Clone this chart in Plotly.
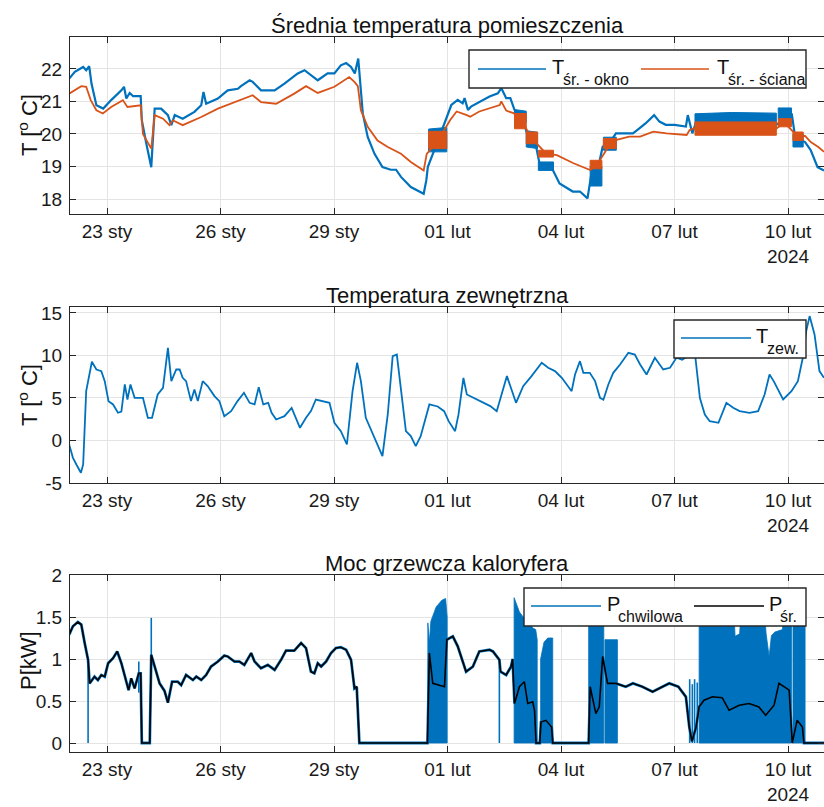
import pandas as pd
import plotly.graph_objects as go

W, H = 824, 807
BASE = pd.Timestamp("2024-01-22 00:00")

# ---------------- data (x = days since 22 Jan 2024 00:00) ----------------
okno_day = [0, 0.15, 0.37, 0.45, 0.53, 0.59, 0.72, 0.9, 1.11, 1.38, 1.45, 1.51, 1.6, 1.69, 1.89, 1.92, 2.04, 2.17,
            2.26, 2.43, 2.61, 2.70, 2.79, 3.0, 3.31, 3.49, 3.55, 3.62, 3.93, 4.19, 4.46, 4.54, 4.77, 4.85, 5.07,
            5.43, 5.69, 5.87, 6.04, 6.22, 6.39, 6.57, 6.83, 7.01, 7.18, 7.32, 7.45, 7.55, 7.64, 7.70, 7.76, 7.89,
            8.07, 8.28, 8.50, 8.64, 8.77, 9.03, 9.37, 9.44, 9.48, 9.75, 10.01, 10.1, 10.27, 10.4, 10.45, 10.54,
            10.62, 10.84, 11.11, 11.33, 11.42, 11.55, 11.66, 11.77, 11.95, 12.12, 12.34, 12.43, 12.6, 12.78,
            12.96, 13.31, 13.5, 13.70, 13.79, 13.95, 14.10, 14.3, 14.45, 14.71, 14.9, 15.07, 15.24, 15.46, 15.6,
            15.77, 16.0, 16.3, 16.35, 16.47, 16.55, 17.0, 17.5, 18.0, 18.5, 18.74, 18.9, 19.1, 19.2, 19.35,
            19.45, 19.6, 19.78, 19.95]
okno_val = [21.70, 21.91, 22.06, 21.96, 22.08, 21.55, 20.88, 20.78, 21.04, 21.34, 21.45, 21.09, 21.26, 21.16, 21.16,
            20.42, 19.70, 18.98, 20.78, 20.78, 20.58, 20.27, 20.58, 20.47, 20.68, 20.88, 21.29, 20.93, 21.09, 21.34,
            21.39, 21.47, 21.65, 21.60, 21.34, 21.34, 21.55, 21.70, 21.86, 21.96, 21.81, 21.65, 21.86, 21.86,
            22.11, 22.18, 22.06, 21.86, 22.32, 21.45, 20.63, 19.91, 19.39, 18.98, 18.90, 18.90, 18.68, 18.37,
            18.16, 18.58, 18.99, 19.80, 20.64, 20.89, 21.05, 20.94, 21.10, 20.74, 20.84, 20.99, 21.15, 21.25,
            21.41, 21.10, 21.10, 20.74, 20.58, 19.95, 19.61, 19.10, 19.00, 18.90, 18.48, 18.23, 18.23, 18.02,
            18.69, 18.80, 19.61, 19.75, 20.02, 20.02, 20.02, 20.17, 20.33, 20.58, 20.38, 20.28, 20.28, 20.23,
            20.58, 20.02, 20.30, 20.40, 20.40, 20.40, 20.35, 20.30, 20.60, 20.60, 19.80, 19.80, 19.75, 19.50,
            18.98, 18.88]

sciana_day = [0, 0.32, 0.45, 0.57, 0.72, 0.89, 1.11, 1.42, 1.54, 1.89, 1.95, 2.17, 2.26, 2.48, 2.65, 2.74, 3.0,
              3.49, 3.93, 4.54, 4.85, 5.07, 5.47, 5.95, 6.26, 6.57, 7.01, 7.40, 7.54, 7.63, 7.71, 7.89, 8.15, 8.42,
              8.77, 9.03, 9.37, 9.45, 9.75, 10.07, 10.24, 10.51, 10.6, 10.84, 11.12, 11.38, 11.42, 11.55, 11.74,
              11.95, 12.2, 12.6, 12.89, 13.33, 13.77, 13.95, 14.3, 14.47, 14.8, 15.09, 15.44, 15.79, 16.32, 16.4,
              16.5, 17.5, 18.7, 18.9, 19.25, 19.45, 19.6, 19.8, 19.95]
sciana_val = [21.24, 21.47, 21.45, 21.04, 20.73, 20.63, 20.83, 21.04, 20.83, 20.88, 20.00, 19.55, 20.58, 20.47,
              20.27, 20.42, 20.27, 20.52, 20.78, 21.04, 21.19, 20.98, 20.93, 21.24, 21.47, 21.26, 21.45, 21.75,
              21.60, 21.47, 20.73, 20.22, 19.80, 19.60, 19.39, 19.14, 18.88, 19.39, 19.80, 20.43, 20.69, 20.58,
              20.53, 20.69, 20.79, 20.89, 21.00, 20.72, 20.64, 20.45, 19.90, 19.40, 19.35, 19.10, 18.89, 19.05,
              19.70, 19.82, 19.92, 19.92, 20.07, 20.02, 19.97, 20.12, 20.17, 20.17, 20.17, 20.35, 19.93, 19.94,
              19.75, 19.60, 19.45]

# oscillating (fast switching) parts of the room temperatures: envelope low/high, None = gap
okno_band_day = [9.50, 9.98, None, 11.77, 12.08, None, 12.08, 12.38, None, 12.40, 12.80, None, 13.77, 14.08, None,
                 14.12, 14.46, None, 16.54, 17.5, 18.69, None, 18.74, 19.09, None, 19.13, 19.40]
okno_band_lo = [19.45, 19.45, None, 20.40, 20.35, None, 19.60, 19.55, None, 18.88, 18.88, None, 18.40, 18.40, None,
                19.50, 19.50, None, 20.15, 20.15, 20.15, None, 20.45, 20.45, None, 19.60, 19.60]
okno_band_hi = [20.15, 20.20, None, 20.75, 20.70, None, 20.10, 20.05, None, 19.14, 19.14, None, 19.00, 19.00, None,
                19.90, 19.90, None, 20.62, 20.66, 20.64, None, 20.80, 20.80, None, 20.00, 20.00]
sciana_band_day = [9.50, 9.98, None, 11.77, 12.08, None, 12.08, 12.38, None, 12.40, 12.80, None, 13.77, 14.08, None,
                   14.12, 14.46, None, 16.54, 18.69, None, 18.74, 19.09, None, 19.13, 19.40]
sciana_band_lo = [19.55, 19.55, None, 20.16, 20.16, None, 19.70, 19.70, None, 19.29, 19.29, None, 18.93, 18.93, None,
                  19.55, 19.55, None, 19.96, 19.96, None, 20.22, 20.22, None, 19.80, 19.80]
sciana_band_hi = [20.08, 20.08, None, 20.63, 20.63, None, 20.06, 20.06, None, 19.50, 19.50, None, 19.19, 19.19, None,
                  19.86, 19.86, None, 20.37, 20.37, None, 20.47, 20.47, None, 20.06, 20.06]

tzew_day = [0, 0.10, 0.19, 0.31, 0.37, 0.45, 0.60, 0.72, 0.85, 0.94, 1.04, 1.16, 1.29, 1.38, 1.47, 1.54, 1.62, 1.73,
            1.95, 2.08, 2.19, 2.34, 2.48, 2.61, 2.70, 2.83, 2.92, 3.0, 3.09, 3.22, 3.31, 3.40, 3.53, 3.66, 3.84,
            3.97, 4.10, 4.28, 4.45, 4.62, 4.77, 4.90, 5.01, 5.13, 5.26, 5.35, 5.47, 5.69, 5.88, 5.99, 6.10, 6.26,
            6.39, 6.52, 6.70, 6.88, 7.01, 7.18, 7.34, 7.49, 7.61, 7.71, 7.84, 8.07, 8.28, 8.42, 8.55, 8.66, 8.77,
            8.90, 9.03, 9.16, 9.29, 9.52, 9.74, 9.91, 10.03, 10.2, 10.29, 10.42, 10.51, 10.77, 11.13, 11.30, 11.57,
            11.81, 12.0, 12.22, 12.49, 12.66, 12.84, 12.93, 13.02, 13.28, 13.37, 13.5, 13.59, 13.76, 13.90, 14.03,
            14.12, 14.25, 14.38, 14.56, 14.78, 14.95, 15.09, 15.26, 15.48, 15.70, 15.88, 16.05, 16.2, 16.35, 16.55,
            16.62, 16.67, 16.80, 16.93, 17.16, 17.37, 17.55, 17.72, 17.98, 18.21, 18.38, 18.51, 18.62, 18.87,
            19.09, 19.26, 19.39, 19.48, 19.57, 19.70, 19.83, 19.95]
tzew_val = [-0.47, -2.04, -2.82, -3.80, -2.82, 5.8, 9.26, 8.35, 8.16, 6.98, 4.63, 4.24, 3.26, 3.4, 6.59, 4.82, 6.59,
            5.02, 5.02, 2.67, 2.67, 5.41, 6.2, 10.9, 6.98, 8.35, 8.35, 7.37, 6.98, 4.63, 6.0, 4.63, 6.98, 6.4, 5.22,
            4.63, 2.86, 3.45, 4.63, 5.61, 4.43, 4.24, 6.27, 4.24, 4.43, 3.26, 2.47, 2.86, 3.84, 2.67, 1.49, 2.67,
            3.45, 4.82, 4.63, 4.43, 2.08, 1.1, -0.47, 5.8, 9.14, 6.98, 2.67, 0.31, -1.84, 3.06, 9.92, 10.1, 5.8,
            1.1, 0.51, -0.67, 0.5, 4.24, 4.0, 3.45, 2.27, 1.1, 3.06, 7.37, 5.41, 4.82, 4.04, 3.45, 7.57, 4.43,
            6.39, 7.57, 9.14, 8.55, 8.16, 7.76, 7.37, 5.8, 7.76, 9.33, 7.96, 7.96, 6.98, 5.02, 4.8, 6.59, 7.96,
            8.94, 10.31, 10.1, 8.94, 7.76, 9.73, 8.35, 8.55, 9.73, 9.5, 9.9, 9.8, 6.98, 5.0, 3.06, 2.27, 2.08,
            4.43, 3.84, 3.45, 3.26, 3.45, 5.41, 7.76, 6.98, 4.82, 5.8, 6.98, 9.73, 12.86, 14.63, 12.47, 8.16, 7.37]

psr_day = [0, 0.10, 0.23, 0.32, 0.41, 0.50, 0.54, 0.67, 0.76, 0.85, 0.94, 1.03, 1.16, 1.27, 1.38, 1.51, 1.57, 1.64,
           1.73, 1.84, 1.89, 1.92, 2.13, 2.17, 2.26, 2.39, 2.52, 2.61, 2.72, 2.87, 2.96, 3.09, 3.27, 3.36, 3.49,
           3.62, 3.75, 3.93, 4.10, 4.19, 4.37, 4.50, 4.63, 4.81, 4.90, 5.07, 5.25, 5.43, 5.60, 5.73, 5.95, 6.13,
           6.26, 6.39, 6.48, 6.57, 6.66, 6.79, 6.92, 7.05, 7.18, 7.32, 7.45, 7.54, 7.60, 7.67, 9.47, 9.52, 9.61,
           9.92, 9.98, 10.14, 10.27, 10.49, 10.67, 10.84, 11.11, 11.2, 11.37, 11.40, 11.55, 11.68, 11.72, 11.77,
           11.90, 12.03, 12.12, 12.25, 12.30, 12.34, 12.44, 12.47, 12.60, 12.75, 12.78, 13.73, 13.77, 13.92,
           14.01, 14.10, 14.23, 14.45, 14.71, 14.9, 15.15, 15.42, 15.68, 15.86, 16.1, 16.30, 16.39, 16.46, 16.57,
           16.65, 16.78, 17.0, 17.26, 17.44, 17.71, 17.97, 18.23, 18.41, 18.63, 18.76, 19.03, 19.11, 19.24, 19.38,
           19.42, 19.95]
psr_val = [1.29, 1.39, 1.44, 1.41, 1.19, 0.99, 0.71, 0.79, 0.75, 0.81, 0.79, 0.95, 1.01, 1.09, 0.95, 0.75, 0.63,
           0.77, 0.65, 0.83, 0.83, 0.0, 0.0, 1.05, 0.91, 0.71, 0.62, 0.48, 0.73, 0.73, 0.69, 0.81, 0.75, 0.79, 0.75,
           0.81, 0.91, 0.97, 1.04, 1.03, 0.97, 0.97, 0.93, 1.07, 0.97, 0.89, 0.93, 0.87, 0.99, 1.10, 1.10, 1.19,
           1.13, 0.85, 0.83, 0.95, 0.91, 0.97, 1.07, 1.13, 1.14, 1.11, 0.99, 0.65, 0.67, 0.0, 0.0, 1.07, 0.71,
           0.67, 1.23, 1.27, 1.15, 0.85, 0.91, 1.09, 1.11, 1.09, 0.99, 0.85, 0.81, 0.91, 1.0, 0.47, 0.67, 0.73,
           0.47, 0.49, 0.39, 0.0, 0.0, 0.25, 0.27, 0.19, 0.0, 0.0, 0.67, 0.35, 0.43, 1.03, 0.71, 0.71, 0.67, 0.71,
           0.67, 0.61, 0.67, 0.71, 0.67, 0.55, 0.19, 0.02, 0.19, 0.43, 0.51, 0.55, 0.54, 0.39, 0.45, 0.47, 0.43,
           0.33, 0.45, 0.71, 0.63, 0.0, 0.27, 0.19, 0.0, 0.0]

# instantaneous power: on/off switching areas (0 .. top envelope), None = gap
pch_band_day = [9.48, 9.52, 9.56, 9.70, 9.85, 9.95, 9.99, None,
                11.76, 11.80, 11.90, 12.0, 12.15, 12.25, 12.33, 12.37, None,
                12.46, 12.55, 12.65, 12.78, None,
                13.73, 14.13, None, 14.16, 14.49, None,
                16.65, 17.55, 17.60, 17.72, 17.78, 18.35, 18.42, 18.50, 18.56, 18.65, 18.85, 18.95, 19.09, None,
                19.13, 19.45]
pch_band_top = [1.43, 1.20, 1.45, 1.62, 1.70, 1.72, 1.50, None,
                1.73, 1.68, 1.56, 1.50, 1.45, 1.37, 1.35, 1.23, None,
                1.00, 1.20, 1.25, 1.25, None,
                1.75, 1.75, None, 1.23, 1.23, None,
                1.75, 1.75, 1.27, 1.30, 1.75, 1.75, 1.30, 1.03, 1.28, 1.32, 1.35, 1.75, 1.75, None,
                1.75, 1.75]
# isolated instantaneous-power spikes
pch_spike_day = [0.50, 1.84, 2.17, 11.37, 16.40, 16.47, 16.53, 16.60]
pch_spike_lo = [0.0, 0.60, 0.90, 0.0, 0.0, 0.0, 0.0, 0.0]
pch_spike_hi = [0.95, 0.97, 1.49, 0.99, 0.76, 0.70, 0.76, 0.72]

tick_days = [1, 4, 7, 10, 13, 16, 19]
tick_text = ["23 sty", "26 sty", "29 sty", "01 lut", "04 lut", "07 lut", "10 lut<br>2024"]

BLUE = "#0072BD"
ORANGE = "#D95319"
FONT = "Liberation Sans, Arial, sans-serif"
AX = "#262626"


def t(days):
    return [None if d is None else BASE + pd.Timedelta(days=d) for d in days]


def band_xy(days, lo, hi):
    xs, ys = [], []
    seg = []
    for i, d in enumerate(days + [None]):
        if d is None:
            if seg:
                sd = [days[j] for j in seg]
                xs += sd + sd[::-1] + [sd[0], None]
                ys += [hi[j] for j in seg] + [lo[j] for j in seg][::-1] + [hi[seg[0]], None]
            seg = []
        else:
            seg.append(i)
    return t(xs), ys


fig = go.Figure()

# --- top: room temperatures
fig.add_trace(go.Scatter(x=t(okno_day), y=okno_val, mode="lines", line=dict(color=BLUE, width=2.2),
                         xaxis="x", yaxis="y", showlegend=False))
bx, by = band_xy(okno_band_day, okno_band_lo, okno_band_hi)
fig.add_trace(go.Scatter(x=bx, y=by, mode="lines", fill="toself", fillcolor=BLUE, line=dict(color=BLUE, width=1),
                         xaxis="x", yaxis="y", showlegend=False))
fig.add_trace(go.Scatter(x=t(sciana_day), y=sciana_val, mode="lines", line=dict(color=ORANGE, width=1.8),
                         xaxis="x", yaxis="y", showlegend=False))
bx, by = band_xy(sciana_band_day, sciana_band_lo, sciana_band_hi)
fig.add_trace(go.Scatter(x=bx, y=by, mode="lines", fill="toself", fillcolor=ORANGE, line=dict(color=ORANGE, width=1),
                         xaxis="x", yaxis="y", showlegend=False))

# --- middle: outdoor temperature
fig.add_trace(go.Scatter(x=t(tzew_day), y=tzew_val, mode="lines", line=dict(color=BLUE, width=1.8),
                         xaxis="x2", yaxis="y2", showlegend=False))

# --- bottom: heating power
pb_lo = [None if v is None else 0.0 for v in pch_band_top]
bx, by = band_xy(pch_band_day, pb_lo, pch_band_top)
fig.add_trace(go.Scatter(x=bx, y=by, mode="lines", fill="toself", fillcolor=BLUE, line=dict(color=BLUE, width=0.8),
                         xaxis="x3", yaxis="y3", showlegend=False))
sx, sy = [], []
for d, lo, hi in zip(pch_spike_day, pch_spike_lo, pch_spike_hi):
    sx += [d, d, None]
    sy += [lo, hi, None]
fig.add_trace(go.Scatter(x=t(sx), y=sy, mode="lines", line=dict(color=BLUE, width=1.6),
                         xaxis="x3", yaxis="y3", showlegend=False))
fig.add_trace(go.Scatter(x=t(psr_day), y=psr_val, mode="lines", line=dict(color=BLUE, width=2.8),
                         xaxis="x3", yaxis="y3", showlegend=False))
fig.add_trace(go.Scatter(x=t(psr_day), y=psr_val, mode="lines", line=dict(color="black", width=1.6),
                         xaxis="x3", yaxis="y3", showlegend=False))

# ---------------- axes ----------------
xl = 70 / W
doms = [(37, 214), (307, 483), (575, 752)]
yranges = [[17.54, 22.98], [-5, 15.7], [-0.107, 2.0]]
yticks = [[18, 19, 20, 21, 22], [-5, 0, 5, 10, 15], [0, 0.5, 1, 1.5, 2]]
yticktext = [["18", "19", "20", "21", "22"], ["-5", "0", "5", "10", "15"], ["0", "0.5", "1", "1.5", "2"]]
for i, (top, bot) in enumerate(doms):
    sfx = "" if i == 0 else str(i + 1)
    fig.update_layout(**{
        "xaxis" + sfx: dict(domain=[xl, 1], anchor="y" + sfx, type="date",
                            range=[BASE + pd.Timedelta(days=0.022), BASE + pd.Timedelta(days=19.95)],
                            tickvals=t(tick_days), ticktext=tick_text, ticks="inside", ticklen=6,
                            tickcolor=AX, tickwidth=1.3, showline=True, linecolor=AX, linewidth=1.3,
                            mirror="ticks", showgrid=True, gridcolor="#e4e4e4", gridwidth=1, zeroline=False,
                            tickfont=dict(family=FONT, size=19, color="#1a1a1a"), ticklabelstandoff=0,
                            automargin=False),
        "yaxis" + sfx: dict(domain=[1 - bot / H, 1 - top / H], anchor="x" + sfx, range=yranges[i],
                            tickvals=yticks[i], ticktext=yticktext[i], ticks="inside", ticklen=6,
                            tickcolor=AX, tickwidth=1.3, showline=True, linecolor=AX, linewidth=1.3,
                            mirror="ticks", showgrid=True, gridcolor="#e4e4e4", gridwidth=1, zeroline=False,
                            tickfont=dict(family=FONT, size=19, color="#1a1a1a"), ticklabelstandoff=3,
                            automargin=False),
    })

# ---------------- titles / labels / legends ----------------
def px(x, y):
    return x / W, 1 - y / H


ann = []
shapes = []
for text, cy in [("Średnia temperatura pomieszczenia", 26), ("Temperatura zewnętrzna", 295),
                 ("Moc grzewcza kaloryfera", 563)]:
    x, y = px(447, cy)
    ann.append(dict(x=x, y=y, xref="paper", yref="paper", text=text, showarrow=False, xanchor="center",
                    yanchor="middle", font=dict(family=FONT, size=22, color="#111")))
for text, cy in [("T [<sup>o</sup> C]", 125), ("T [<sup>o</sup> C]", 395), ("P[kW]", 661)]:
    x, y = px(28, cy)
    ann.append(dict(x=x, y=y, xref="paper", yref="paper", text=text, showarrow=False, xanchor="center",
                    yanchor="middle", textangle=-90, font=dict(family=FONT, size=22, color="#111")))

legends = [
    ((469, 50, 806, 88), [(478, 546, 69, BLUE, "T", "śr. - okno", 550), (641, 709, 69, ORANGE, "T", "śr. - ściana", 715)]),
    ((674, 320, 806, 358), [(681, 751, 338, BLUE, "T", "zew.", 754)]),
    ((524, 588, 806, 626), [(531, 601, 606, BLUE, "P", "chwilowa", 605), (694, 764, 606, "black", "P", "śr.", 767)]),
]
for (x0, y0, x1, y1), items in legends:
    a0, b0 = px(x0, y1)
    a1, b1 = px(x1, y0)
    shapes.append(dict(type="rect", xref="paper", yref="paper", x0=a0, y0=b0, x1=a1, y1=b1,
                       line=dict(color=AX, width=1.4), fillcolor="white", layer="above"))
    for lx0, lx1, ly, col, main, sub, tx in items:
        a0, b = px(lx0, ly)
        a1, _ = px(lx1, ly)
        shapes.append(dict(type="line", xref="paper", yref="paper", x0=a0, y0=b, x1=a1, y1=b,
                           line=dict(color=col, width=1.6), layer="above"))
        x, y = px(tx, ly - 2)
        ann.append(dict(x=x, y=y, xref="paper", yref="paper", text=main, showarrow=False, xanchor="left",
                        yanchor="middle", font=dict(family=FONT, size=20, color="#111")))
        x, y = px(tx + 11, ly + 10)
        ann.append(dict(x=x, y=y, xref="paper", yref="paper", text=sub, showarrow=False, xanchor="left",
                        yanchor="middle", font=dict(family=FONT, size=16, color="#111")))

fig.update_layout(width=W, height=H, margin=dict(l=0, r=0, t=0, b=0), paper_bgcolor="white",
                  plot_bgcolor="white", annotations=ann, shapes=shapes, showlegend=False,
                  font=dict(family=FONT))

fig.write_html("out.html")
